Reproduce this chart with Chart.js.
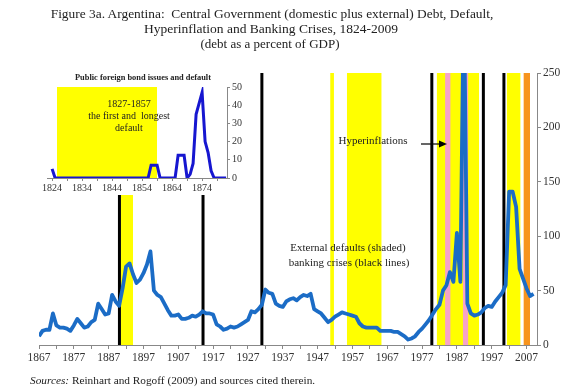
<!DOCTYPE html>
<html>
<head>
<meta charset="utf-8">
<script src="https://cdn.jsdelivr.net/npm/chart.js@4.4.1/dist/chart.umd.min.js"></script>
<style>
  body { margin: 0; background: #fff; }
  #wrap { position: relative; width: 570px; height: 392px; overflow: hidden;
          font-family: "Liberation Serif", "Times New Roman", serif; color: #222; }
  .t { position: absolute; white-space: nowrap; transform: translate(-50%, -50%); }
  #main { position: absolute; left: 0; top: 0; }
  #insetBox { position: absolute; left: 30px; top: 68px; width: 215px; height: 127px; background: #fff; }
  #arrow { position: absolute; left: 0; top: 0; pointer-events: none; }
</style>
</head>
<body>
<div id="wrap">
  <canvas id="main" width="570" height="392"></canvas>
  <div id="insetBox"><canvas id="inset" width="215" height="127"></canvas></div>

  <div class="t" style="left:272px;top:14px;font-size:13.4px">Figure 3a. Argentina:&nbsp; Central Government (domestic plus external) Debt, Default,</div>
  <div class="t" style="left:271px;top:29px;font-size:13.5px">Hyperinflation and Banking Crises, 1824-2009</div>
  <div class="t" style="left:270px;top:44px;font-size:13px">(debt as a percent of GDP)</div>

  <div class="t" style="left:143px;top:77px;font-size:8.4px;font-weight:bold">Public foreign bond issues and default</div>
  <div class="t" style="left:129px;top:103px;font-size:10px">1827-1857</div>
  <div class="t" style="left:129px;top:115px;font-size:10px">the first and&nbsp; longest</div>
  <div class="t" style="left:129px;top:127px;font-size:10px">default</div>

  <div class="t" style="left:373px;top:140px;font-size:11px">Hyperinflations</div>
  <div class="t" style="left:348px;top:247px;font-size:11px">External defaults (shaded)</div>
  <div class="t" style="left:349px;top:262px;font-size:11px">banking crises (black lines)</div>

  <div style="position:absolute;left:30px;top:374px;font-size:11.3px;white-space:nowrap"><i>Sources:</i> Reinhart and Rogoff (2009) and sources cited therein.</div>

  <svg id="arrow" width="570" height="392">
    <line x1="421" y1="144" x2="441" y2="144" stroke="#000" stroke-width="1.2"/>
    <polygon points="447,144 439,140.5 439,147.5" fill="#000"/>
  </svg>
</div>

<script>
// central government debt, % of GDP, one value per year from 1867
const debtStart = 1867;
const debtRatio = [
  8, 13, 14, 14, 29, 18, 16, 16, 15, 13,      // 1867-1876
  18, 24, 20, 16, 17, 21, 23, 38, 33, 28,     // 1877-1886
  29, 46, 40, 36, 52, 72, 75, 65, 57, 60,     // 1887-1896
  66, 74, 86, 50, 46, 44, 38, 32, 27, 27,     // 1897-1906
  28, 24, 24, 25, 27, 26, 28, 31, 29, 29,     // 1907-1916
  28, 19, 17, 14, 15, 17, 16, 17, 19, 21,     // 1917-1926
  23, 31, 30, 33, 37, 51, 48, 47, 38, 36,     // 1927-1936
  35, 40, 42, 43, 41, 44, 46, 45, 47, 33,     // 1937-1946
  31, 29, 25, 21, 23, 26, 28, 30, 29, 28,     // 1947-1956
  27, 26, 20, 17, 16, 16, 16, 16, 13, 13,     // 1957-1966
  13, 13, 12, 12, 10, 8, 5, 6, 8, 12,         // 1967-1976
  15, 19, 23, 28, 33, 37, 50, 55, 67, 58,     // 1977-1986
  103, 58, 330, 38, 29, 27, 28, 30, 34, 36,   // 1987-1996
  35, 40, 44, 48, 55, 141, 141, 127, 70, 61,  // 1997-2006
  52, 45, 47                                  // 2007-2009
];

// public foreign bond issues, one value per year from 1824
const bondStart = 1824;
const bondIssues = [
  5, 0, 0, 0, 0, 0, 0, 0, 0, 0,        // 1824-1833
  0, 0, 0, 0, 0, 0, 0, 0, 0, 0,        // 1834-1843
  0, 0, 0, 0, 0, 0, 0, 0, 0, 0,        // 1844-1853
  0, 0, 0, 7, 7, 7, 0, 0, 0, 0,        // 1854-1863
  0, 0, 12.5, 12.5, 12.5, 0, 2, 8, 35, 41, // 1864-1873
  47, 20, 14, 4, 0, 0, 0, 0, 0         // 1874-1882
];
const insetDefault = [[1825.6, 1859]];

// episodes (years)
const externalDefaults = [[1890.5, 1894], [1950.6, 1951.7], [1955.4, 1965.4], [1981.2, 1993.4], [2001.3, 2005.3]];
const hyperinflations = [[1983.6, 1985.2], [1988.7, 1990.3]];
const recentDefault = [[2006.1, 2008]];
const bankingCrises = [1890.1, 1914.1, 1931, 1979.8, 1994.6, 2000.5];

// axis ticks
const xLabelYears = [1867, 1877, 1887, 1897, 1907, 1917, 1927, 1937, 1947, 1957, 1967, 1977, 1987, 1997, 2007];
const xTickYears = [];
for (let y = 1867; y <= 2007; y += 5) xTickYears.push(y);
const insetLabelYears = [1824, 1834, 1844, 1854, 1864, 1874];
const insetTickYears = [];
for (let y = 1824; y <= 1879; y += 5) insetTickYears.push(y);

const yMax = 250;
const insetMax = 50;
const serif = 'Liberation Serif';

function bands(list, color, top, order) {
  return list.map(([a, b]) => ({
    data: [{ x: a, y: top }, { x: b, y: top }],
    backgroundColor: color, borderWidth: 0, pointRadius: 0,
    fill: 'origin', order: order
  }));
}

function vlines(list, top) {
  return list.map(yr => ({
    data: [{ x: yr, y: 0 }, { x: yr, y: top }],
    borderColor: '#000', borderWidth: 3, pointRadius: 0, fill: false, order: 1
  }));
}

const mainData = debtRatio.map((v, i) => ({ x: debtStart + i, y: v }));
const bondData = bondIssues.map((v, i) => ({ x: bondStart + i, y: v }));

new Chart(document.getElementById('main'), {
  type: 'line',
  data: {
    datasets: [
      { data: mainData, borderColor: '#1b6cc6', borderWidth: 3.8, pointRadius: 0,
        fill: false, tension: 0, order: 0, borderJoinStyle: 'round' },
      ...vlines(bankingCrises, yMax),
      ...bands(hyperinflations, '#f6a3c8', yMax, 2),
      ...bands(recentDefault, '#f7941d', yMax, 2),
      ...bands(externalDefaults, '#ffff00', yMax, 3)
    ]
  },
  options: {
    responsive: false,
    animation: false,
    layout: { padding: { left: 39, top: 73, right: 0, bottom: 0 } },
    plugins: { legend: { display: false }, tooltip: { enabled: false } },
    scales: {
      x: {
        type: 'linear', min: 1867, max: 2010,
        afterBuildTicks: s => { s.ticks = xTickYears.map(v => ({ value: v })); },
        afterFit: s => { s.height = 47; },
        ticks: {
          autoSkip: false, maxRotation: 0, padding: 2, color: '#333',
          font: { family: serif, size: 11.5 },
          callback: v => xLabelYears.includes(v) ? String(v) : ''
        },
        grid: { drawOnChartArea: false, tickLength: 4, color: '#888' },
        border: { color: '#888' }
      },
      y: {
        position: 'right', min: 0, max: yMax,
        afterFit: s => { s.width = 33; },
        ticks: { stepSize: 50, padding: 2, color: '#333', font: { family: serif, size: 11.5 } },
        grid: { drawOnChartArea: false, tickLength: 4, color: '#888' },
        border: { color: '#888' }
      }
    }
  }
});

new Chart(document.getElementById('inset'), {
  type: 'line',
  data: {
    datasets: [
      { data: bondData, borderColor: '#1616d0', borderWidth: 3, pointRadius: 0,
        fill: false, tension: 0, order: 0 },
      ...bands(insetDefault, '#ffff00', insetMax, 3)
    ]
  },
  options: {
    responsive: false,
    animation: false,
    layout: { padding: { left: 17, top: 19, right: 0, bottom: 0 } },
    plugins: { legend: { display: false }, tooltip: { enabled: false } },
    scales: {
      x: {
        type: 'linear', min: 1822.3, max: 1882.3,
        afterBuildTicks: s => { s.ticks = insetTickYears.map(v => ({ value: v })); },
        afterFit: s => { s.height = 17; },
        ticks: {
          autoSkip: false, maxRotation: 0, padding: 1, color: '#333',
          font: { family: serif, size: 10 },
          callback: v => insetLabelYears.includes(v) ? String(v) : ''
        },
        grid: { drawOnChartArea: false, tickLength: 3, color: '#888' },
        border: { color: '#888' }
      },
      y: {
        position: 'right', min: 0, max: insetMax,
        afterFit: s => { s.width = 18; },
        ticks: { stepSize: 10, padding: 2, color: '#333', font: { family: serif, size: 10 } },
        grid: { drawOnChartArea: false, tickLength: 3, color: '#888' },
        border: { color: '#888' }
      }
    }
  }
});
</script>
</body>
</html>
